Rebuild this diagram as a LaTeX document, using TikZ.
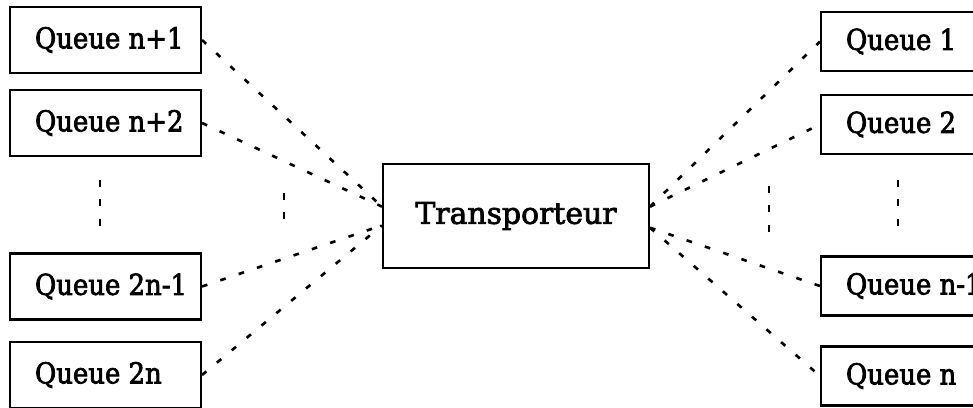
\documentclass[tikz,border=0pt]{standalone}
\usepackage{fontspec}
\setmainfont{DejaVu Serif}
\newfontfamily\boxfont{DejaVu Serif}[FakeBold=2.5]
\newfontfamily\queuefont{DejaVu Serif Condensed}[FakeBold=2.5]
\usetikzlibrary{positioning}

\newcommand{\qtext}[1]{\makebox[2.82cm][l]{#1}}

\begin{document}
\begin{tikzpicture}[
  x=0.02cm, y=-0.02cm,
  font=\queuefont\fontsize{16.4}{19}\selectfont,
  queue/.style={
    draw, line width=1.2pt,
    inner xsep=0.5cm,
    minimum height=1.32cm
  },
  rqueue/.style={queue, minimum height=1.18cm},
  carrier/.style={
    draw, line width=1.2pt,
    font=\boxfont\fontsize{17}{19}\selectfont,
    minimum width=5.32cm,
    minimum height=2.08cm
  },
  link/.style={line width=1.5pt, dash pattern=on 3.2pt off 7.8pt},
  more/.style={line width=1.5pt, dash pattern=on 4pt off 7pt}
]
\useasboundingbox (0,0) rectangle (973,407);
\clip (0,0) rectangle (973,407);

% The carrier in the middle.
\node[carrier] (T) at (516,216) {Transporteur};

% Queues on the left.
\node[queue] (qn1) at (105.5,40) {\qtext{Queue n+1}};
\node[queue] (qn2) at (105.5,123) {\qtext{Queue n+2}};
\node[queue] (q2n1) at (105.5,286.5) {\qtext{Queue 2n-1}};
\node[queue] (q2n) at (105.5,375) {\qtext{Queue 2n}};

% Queues on the right.
\node[rqueue] (q1) at (916.5,41.5) {\qtext{Queue 1}};
\node[rqueue] (q2) at (916.5,124.5) {\qtext{Queue 2}};
\node[rqueue] (qm1) at (916.5,286) {\qtext{Queue n-1}};
\node[rqueue] (qn) at (916.5,376) {\qtext{Queue n}};

% Links to the carrier.
\draw[link] (qn1.east) -- (T.176);
\draw[link] (qn2.east) -- (T.176);
\draw[link] (q2n1.east) -- (T.184);
\draw[link] (q2n.east) -- (T.184);
\draw[link] (T.4) -- (q1.west);
\draw[link] (T.4) -- (q2.west);
\draw[link] (T.355) -- (qm1.west);
\draw[link] (T.355) -- (qn.west);

% Omitted queues and links.
\draw[more] (100,180) -- (100,227);
\draw[more] (284,193) -- (284,220);
\draw[more] (769,186) -- (769,233);
\draw[more] (898,180) -- (898,227);
\end{tikzpicture}
\end{document}
